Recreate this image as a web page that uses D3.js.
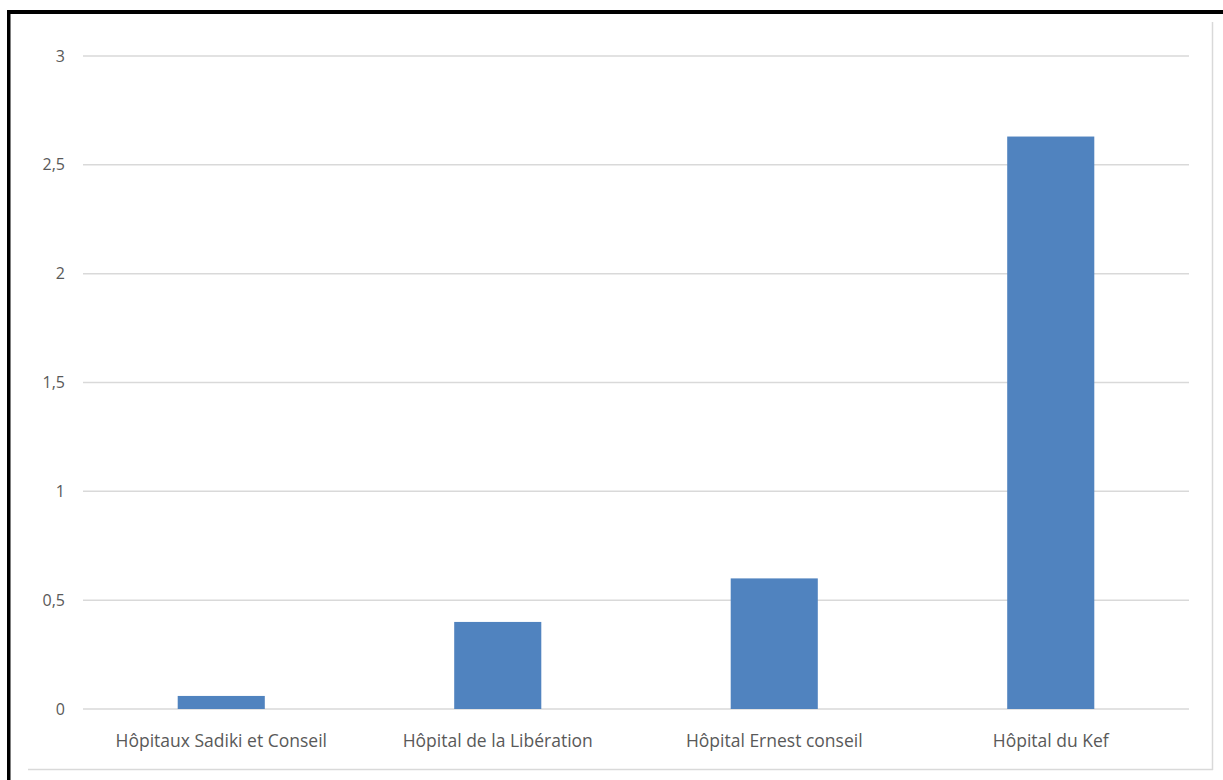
<!DOCTYPE html>
<html><head><meta charset="utf-8">
<script src="https://cdn.jsdelivr.net/npm/d3@7"></script>
<style>body{margin:0;background:#fff}svg{display:block}</style>
</head><body>
<script>
const categories = ["Hôpitaux Sadiki et Conseil", "Hôpital de la Libération", "Hôpital Ernest conseil", "Hôpital du Kef"];
const values = [0.06, 0.4, 0.6, 2.63];
const yTicks = [0, 0.5, 1, 1.5, 2, 2.5, 3];
const yTickLabels = ["0", "0,5", "1", "1,5", "2", "2,5", "3"];

const W = 1223, H = 780;
const svg = d3.select("body").append("svg").attr("width", W).attr("height", H);

// frame: black border top & left, light inner frame right & bottom
svg.append("rect").attr("x", 7).attr("y", 10).attr("width", W - 7).attr("height", 4).attr("fill", "#000");
svg.append("rect").attr("x", 7).attr("y", 10).attr("width", 3.5).attr("height", H - 10).attr("fill", "#000");
svg.append("line").attr("x1", 1212.5).attr("x2", 1212.5).attr("y1", 22).attr("y2", 770).attr("stroke", "#d9d9d9").attr("stroke-width", 1.5);
svg.append("line").attr("x1", 28).attr("x2", 1213).attr("y1", 769.5).attr("y2", 769.5).attr("stroke", "#d9d9d9").attr("stroke-width", 1.5);

const x = d3.scaleBand().domain(categories).range([83, 1189]).paddingInner(0.685).paddingOuter(0.3425);
const y = d3.scaleLinear().domain([0, 3]).range([709, 56]);

const font = "'Open Sans', 'Noto Sans', sans-serif";

// gridlines
svg.append("g").selectAll("line").data(yTicks).join("line")
  .attr("x1", 83).attr("x2", 1189)
  .attr("y1", d => y(d)).attr("y2", d => y(d))
  .attr("stroke", "#d9d9d9").attr("stroke-width", 1.5);

// y labels
svg.append("g").selectAll("text").data(yTicks).join("text")
  .attr("x", 65).attr("y", d => y(d)).attr("dy", "0.35em")
  .attr("text-anchor", "end")
  .attr("font-family", font).attr("font-size", 16).attr("fill", "#595959")
  .text((d, i) => yTickLabels[i]);

// bars
svg.append("g").selectAll("rect").data(values).join("rect")
  .attr("x", (d, i) => x(categories[i]))
  .attr("width", x.bandwidth())
  .attr("y", d => y(d))
  .attr("height", d => y(0) - y(d))
  .attr("fill", "#5083bf");

// x labels
svg.append("g").selectAll("text").data(categories).join("text")
  .attr("x", d => x(d) + x.bandwidth() / 2).attr("y", 741).attr("dy", "0.35em")
  .attr("text-anchor", "middle")
  .attr("font-family", font).attr("font-size", 17.5).attr("fill", "#595959")
  .text(d => d);
</script>
</body></html>
